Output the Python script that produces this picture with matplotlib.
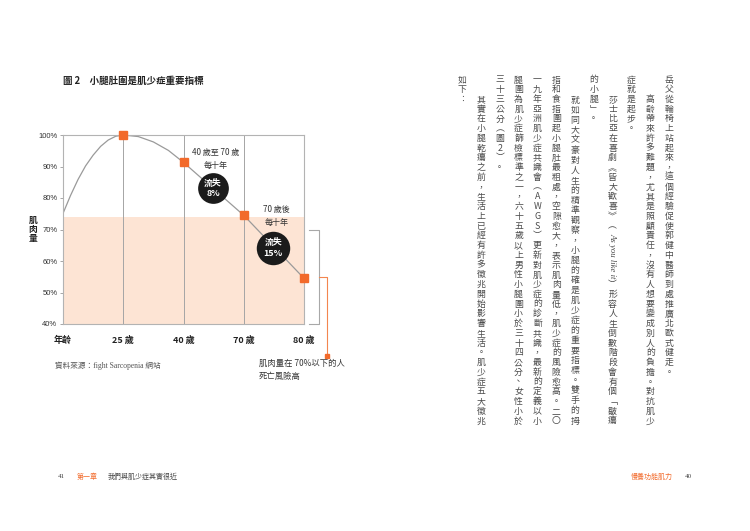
import matplotlib
matplotlib.use("Agg")
import matplotlib.pyplot as plt

plt.rcParams['font.family'] = ['Noto Sans CJK TC', 'DejaVu Sans']

# ---- chart data ----
age_labels = ['年齡', '25 歲', '40 歲', '70 歲', '80 歲']
age_pos = [0, 1, 2, 3, 4]
y_ticks = [40, 50, 60, 70, 80, 90, 100]

# orange square markers
marker_x = [1, 2, 3, 4]
marker_y = [100, 91.3, 74.5, 54.5]

# gray muscle-mass curve
curve_x = [0, 0.125, 0.25, 0.375, 0.5, 0.625, 0.75, 0.875, 1.0,
           1.25, 1.5, 1.75, 2.0, 3.0, 4.0]
curve_y = [75.1, 80.8, 85.9, 90.2, 93.6, 96.4, 98.4, 99.6, 100,
           99.5, 97.8, 95.1, 91.3, 74.5, 54.5]

shade_top = 74      # peach band top
risk_level = 70     # bracket top
loss_labels = ['流失\n8%', '流失\n15%']

# ---- right page text, one string per vertical column ----
body_columns = [
    "岳父從輪椅上站起來，這個經驗促使郭健中醫師到處推廣北歐式健走。",
    "　　高齡帶來許多難題，尤其是照顧責任，沒有人想要變成別人的負擔。對抗肌少",
    "症就是起步。",
    None,  # column with the English title, handled below
    "的小腿」。",
    "　　就如同大文豪對人生的精準觀察，小腿的確是肌少症的重要指標。雙手的拇",
    "指和食指圍起小腿肚最粗處，空隙愈大，表示肌肉量低，肌少症的風險愈高。二〇",
    "一九年亞洲肌少症共識會（AWGS）更新對肌少症的診斷共識，最新的定義以小",
    "腿圍為肌少症篩檢標準之一，六十五歲以上男性小腿圍小於三十四公分、女性小於",
    "三十三公分（圖2）。",
    "　　其實在小腿乾癟之前，生活上已經有許多徵兆開始影響生活。肌少症五大徵兆",
    "如下：",
]
col4_head = "　　莎士比亞在喜劇《皆大歡喜》（"
col4_latin = "As you like it"
col4_tail = "）形容人生倒數階段會有個「皺癟"
full_cols = [1, 5, 6, 7, 8, 10]

vert = {'（': '︵', '）': '︶', '《': '︽', '》': '︾',
        '「': '﹁', '」': '﹂', '：': '︰'}

orange = '#f26a2b'

fig = plt.figure(figsize=(7.5, 5.31), dpi=100)

# page layer in pixel coordinates
page = fig.add_axes([0, 0, 1, 1])
page.set_xlim(0, 750)
page.set_ylim(531, 0)
page.axis('off')

# ---- chart ----
ax = fig.add_axes([63/750, 1 - 324/531, 241/750, 189/531])
ax.set_facecolor('none')
ax.set_xlim(0, 4)
ax.set_ylim(40, 100)

ax.axhspan(40, shade_top, color='#fde4d4', lw=0, zorder=0)
for x in age_pos[1:4]:
    ax.axvline(x, color='#a5a5a5', lw=0.7, zorder=1)
ax.plot(curve_x, curve_y, color='#9a9a9a', lw=0.9, zorder=2)
ax.plot(marker_x, marker_y, ls='none', marker='s', ms=6, color=orange,
        zorder=4, clip_on=False)

for s in ax.spines.values():
    s.set_color('#b3b3b3')
    s.set_linewidth(0.8)

ax.set_yticks(y_ticks)
ax.set_yticklabels([f'{v}%' for v in y_ticks],
                   family=['Liberation Sans', 'Noto Sans CJK TC'])
ax.tick_params(axis='y', length=2.5, width=0.6, color='#999999',
               labelsize=5.5, pad=1.5, labelcolor='#333333')
ax.set_xticks(age_pos)
ax.set_xticklabels(age_labels, fontweight='bold', fontsize=6.5, color='#222222')
ax.tick_params(axis='x', length=0, pad=8.5)

ax.text(-0.5, 70, '肌\n肉\n量', ha='center', va='center', fontsize=6.3,
        fontweight='bold', linespacing=1.05, color='#222222', clip_on=False)

ax.text(2.53, 92.3, '40 歲至 70 歲\n每十年', ha='center', va='center',
        fontsize=5.8, linespacing=1.6, color='#333333')
ax.text(3.54, 74.4, '70 歲後\n每十年', ha='center', va='center',
        fontsize=5.8, linespacing=1.6, color='#333333', clip_on=False)

for (cx, cy, sz), lab in zip([(2.49, 83.1, 490), (3.49, 64.2, 580)], loss_labels):
    ax.scatter([cx], [cy], s=sz, color='#1b1b1b', zorder=5, lw=0)
    ax.text(cx, cy, lab, ha='center', va='center', color='white', fontsize=6.4,
            fontweight='bold', linespacing=1.25, zorder=6)

# bracket for the under-70% zone and its orange callout
ax.plot([4.08, 4.25, 4.25, 4.08], [risk_level, risk_level, 40, 40],
        color='#a8a8a8', lw=0.8, clip_on=False)
ax.plot([4.25, 4.39, 4.39], [55, 55, 29.8], color='#f3864f', lw=0.8, clip_on=False)
ax.plot([4.39], [29.8], marker='s', ms=2.5, color=orange, clip_on=False)
ax.text(3.25, 25.4, '肌肉量在 70%以下的人\n死亡風險高', ha='left', va='center',
        fontsize=6, linespacing=1.55, color='#333333', clip_on=False)

ax.text(-0.13, 26.7, '資料來源：fight Sarcopenia 網站', ha='left', va='center',
        fontsize=5.5, color='#555555', family=['Liberation Serif', 'Noto Sans CJK TC'],
        clip_on=False)

page.text(63, 81, '圖 2　小腿肚圍是肌少症重要指標', ha='left', va='center',
          fontsize=6.8, fontweight='bold', color='#222222')

# ---- right page body, vertical text ----
top, bottom = 80, 421
step = (bottom - top) / 35
body_kw = dict(ha='center', va='center', fontsize=6.4, color='#4a4a4a',
               fontweight='light')


def put_chars(x, chars, start_slot, pitch):
    for i, ch in enumerate(chars):
        if ch == '　':
            continue
        page.text(x, top + (start_slot + i) * pitch, vert.get(ch, ch), **body_kw)


for ci, col in enumerate(body_columns):
    x = 669 - ci * 18.8
    if col is None:
        put_chars(x, col4_head, 0, step)
        page.text(x, top + 18 * step, col4_latin, ha='center', va='center',
                  rotation=-90, fontsize=6.3, style='italic', color='#4a4a4a',
                  family='Liberation Serif')
        put_chars(x, col4_tail, 21, step)
        continue
    pitch = (bottom - top) / (len(col) - 1) if ci in full_cols else step
    put_chars(x, col, 0, pitch)

# ---- footers ----
foot_kw = dict(va='center', fontsize=5, family=['Liberation Serif', 'Noto Sans CJK TC'])
page.text(58, 476, '41', ha='left', color='#444444', **foot_kw)
page.text(77, 476, '第一章', ha='left', color=orange, **foot_kw)
page.text(108, 476, '我們與肌少症其實很近', ha='left', color='#444444', **foot_kw)
page.text(673, 476, '慢養功能肌力', ha='right', color=orange, **foot_kw)
page.text(685, 476, '40', ha='left', color='#444444', **foot_kw)

fig.savefig('out.png', dpi=100, facecolor='white')
